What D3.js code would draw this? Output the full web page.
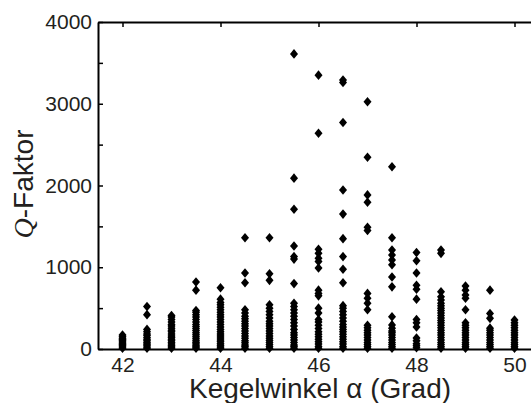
<!DOCTYPE html>
<html>
<head>
<meta charset="utf-8">
<script src="https://cdn.jsdelivr.net/npm/d3@7"></script>
<style>
  html, body { margin: 0; padding: 0; background: #fff; overflow: hidden; }
  svg { display: block; }
  text { font-family: "Liberation Sans", Arial, sans-serif; fill: #231f20; }
</style>
</head>
<body>
<svg id="chart" width="531" height="403"></svg>
<script>
// Cone angles (degrees) at which Q was measured
const angles = [42, 42.5, 43, 43.5, 44, 44.5, 45, 45.5, 46, 46.5, 47, 47.5, 48, 48.5, 49, 49.5, 50];

// Q-factor values measured at each cone angle (same order as angles)
const q42   = [10, 25, 40, 55, 70, 85, 100, 115, 130, 150, 170];
const q42_5 = [10, 25, 45, 60, 80, 100, 120, 140, 165, 185, 210, 240, 420, 520];
const q43   = [10, 25, 40, 60, 80, 100, 120, 140, 160, 185, 210, 230, 255, 280, 300, 330, 360, 390, 410];
const q43_5 = [10, 25, 40, 60, 80, 100, 125, 150, 175, 200, 225, 250, 275, 300, 330, 360, 390, 420, 450, 470, 720, 820];
const q44   = [10, 25, 45, 65, 90, 110, 135, 160, 185, 210, 240, 270, 300, 330, 360, 390, 420, 450, 480, 510, 540, 570, 610, 750];
const q44_5 = [10, 30, 50, 75, 100, 130, 160, 190, 220, 250, 280, 310, 340, 370, 400, 440, 480, 810, 930, 1360];
const q45   = [10, 30, 55, 80, 105, 130, 160, 190, 220, 250, 280, 310, 340, 380, 420, 460, 500, 540, 840, 920, 1360];
const q45_5 = [10, 30, 50, 80, 110, 140, 170, 200, 240, 280, 320, 360, 400, 440, 480, 520, 560, 800, 1100, 1130, 1260, 1710, 2090, 3610];
const q46   = [10, 30, 60, 90, 120, 150, 180, 210, 250, 290, 330, 360, 440, 500, 650, 680, 720, 990, 1070, 1110, 1170, 1220, 2640, 3350];
const q46_5 = [10, 30, 60, 90, 120, 150, 180, 210, 240, 270, 300, 340, 380, 420, 460, 500, 530, 810, 975, 1130, 1350, 1650, 1945, 2770, 3260, 3290];
const q47   = [10, 30, 55, 80, 110, 140, 170, 200, 230, 260, 290, 480, 560, 620, 680, 1450, 1490, 1795, 1885, 2345, 3025];
const q47_5 = [10, 30, 55, 80, 110, 140, 170, 200, 220, 255, 295, 395, 760, 880, 1030, 1090, 1150, 1210, 1360, 2230];
const q48   = [15, 40, 65, 100, 135, 270, 320, 360, 610, 730, 780, 930, 1080, 1180];
const q48_5 = [10, 30, 55, 80, 110, 140, 170, 200, 230, 260, 290, 320, 350, 380, 410, 440, 470, 500, 530, 560, 600, 640, 700, 1170, 1210];
const q49   = [10, 30, 55, 80, 110, 140, 170, 200, 230, 260, 290, 320, 480, 620, 660, 720, 770];
const q49_5 = [10, 30, 55, 80, 110, 140, 170, 200, 230, 255, 375, 435, 720];
const q50   = [10, 30, 55, 80, 110, 140, 170, 200, 230, 260, 290, 320, 355];

const qValues = [q42, q42_5, q43, q43_5, q44, q44_5, q45, q45_5, q46, q46_5, q47, q47_5, q48, q48_5, q49, q49_5, q50];

// Axis ticks
const xTicks = [42, 44, 46, 48, 50];
const yTicks = [0, 500, 1000, 1500, 2000, 2500, 3000, 3500, 4000];
const yTickLabels = { 0: "0", 1000: "1000", 2000: "2000", 3000: "3000", 4000: "4000" };

const svg = d3.select("#chart");
const x = d3.scaleLinear().domain([41.5, 50.5]).range([98, 539]);
const y = d3.scaleLinear().domain([0, 4000]).range([349, 22]);

const points = [];
angles.forEach((a, i) => qValues[i].forEach(v => points.push({ a, v })));

// Filled diamond markers
const diamond = "M0,-4.8L4,0L0,4.8L-4,0Z";
svg.append("g")
  .selectAll("path")
  .data(points)
  .join("path")
  .attr("d", diamond)
  .attr("transform", d => `translate(${x(d.a)},${y(d.v)})`)
  .attr("fill", "#000");

// Axes with inward ticks
const yAxis = svg.append("g")
  .attr("transform", `translate(${x.range()[0]},0)`)
  .call(d3.axisLeft(y).tickValues(yTicks).tickSize(-5).tickSizeOuter(0).tickPadding(6)
    .tickFormat(d => yTickLabels[d] || ""));

const xAxis = svg.append("g")
  .attr("transform", `translate(0,${y(0)})`)
  .call(d3.axisBottom(x).tickValues(xTicks).tickSize(-5).tickSizeOuter(0).tickPadding(8)
    .tickFormat(d3.format("d")));

const xTop = svg.append("g")
  .attr("transform", `translate(0,${y(4000)})`)
  .call(d3.axisTop(x).tickValues(xTicks).tickSize(-5).tickSizeOuter(0).tickFormat(""));

[yAxis, xAxis, xTop].forEach(g => {
  g.select(".domain").attr("stroke", "#000").attr("stroke-width", 2);
  g.selectAll(".tick line").attr("stroke", "#000").attr("stroke-width", 1.5);
  g.selectAll(".tick text").attr("font-size", 21).attr("fill", "#231f20")
    .attr("font-family", "'Liberation Sans', Arial, sans-serif");
});

// Axis titles
svg.append("text")
  .attr("x", 320)
  .attr("y", 398)
  .attr("text-anchor", "middle")
  .attr("font-size", 28)
  .text("Kegelwinkel α (Grad)");

const yTitle = svg.append("text")
  .attr("transform", "translate(33,184) rotate(-90)")
  .attr("text-anchor", "middle")
  .attr("font-size", 28);
yTitle.append("tspan")
  .attr("font-family", "'Liberation Serif', 'DejaVu Serif', serif")
  .attr("font-style", "italic")
  .text("Q");
yTitle.append("tspan").text("-Faktor");
</script>
</body>
</html>
